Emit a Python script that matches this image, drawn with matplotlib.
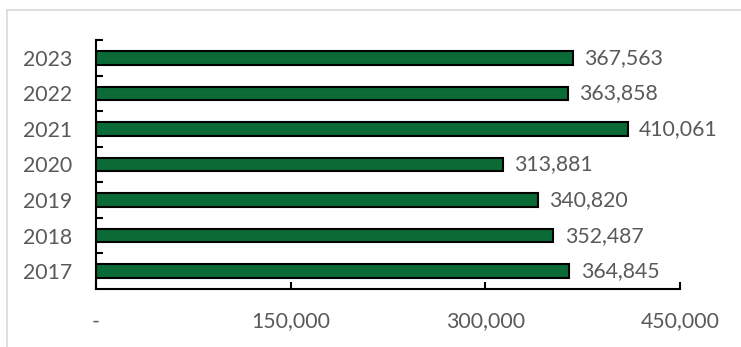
import matplotlib.pyplot as plt
from matplotlib.ticker import FuncFormatter, FixedLocator
from matplotlib.lines import Line2D

# Données
years = ["2017", "2018", "2019", "2020", "2021", "2022", "2023"]
values = [364845, 352487, 340820, 313881, 410061, 363858, 367563]
xticks = [0, 150000, 300000, 450000]

BAR_COLOR = "#0a6b37"
TEXT_COLOR = "#595959"
FS = 15.3

plt.rcParams["font.family"] = ["Lato", "DejaVu Sans"]

fig = plt.figure(figsize=(7.41, 3.47), dpi=100)
ax = fig.add_axes([96 / 741, 1 - 289 / 347, (680 - 96) / 741, (289 - 40) / 347])

pos = range(len(years))
ax.barh(pos, values, height=0.38, color=BAR_COLOR, edgecolor="black", linewidth=1.5)

for p, v in zip(pos, values):
    ax.annotate(f"{v:,}", (v, p), xytext=(8, 0), textcoords="offset points",
                va="center", ha="left", fontsize=FS, color=TEXT_COLOR)

ax.set_xlim(0, 450000)
ax.set_ylim(-0.5, len(years) - 0.5)
ax.set_xticks(xticks)
ax.xaxis.set_major_formatter(FuncFormatter(lambda x, _: "-" if x == 0 else f"{x:,.0f}"))
ax.set_yticks(list(pos))
ax.set_yticklabels(years)
ax.yaxis.set_minor_locator(FixedLocator([i + 0.5 for i in pos]))

ax.tick_params(axis="y", which="major", length=0, pad=17, labelsize=FS, labelcolor=TEXT_COLOR)
ax.tick_params(axis="y", which="minor", direction="in", length=5, width=1.5, color="black")
ax.tick_params(axis="x", direction="in", length=5, width=1.5, pad=16, labelsize=FS,
               labelcolor=TEXT_COLOR)

for s in ["top", "right"]:
    ax.spines[s].set_visible(False)
for s in ["left", "bottom"]:
    ax.spines[s].set_linewidth(1.5)

# Cadre du graphique (haut et gauche)
fig.add_artist(Line2D([7 / 741, 1], [1 - 10 / 347] * 2, color="#d9d9d9", lw=1.2))
fig.add_artist(Line2D([7 / 741] * 2, [0, 1 - 10 / 347], color="#d9d9d9", lw=1.2))

plt.savefig("out.png", dpi=100)
